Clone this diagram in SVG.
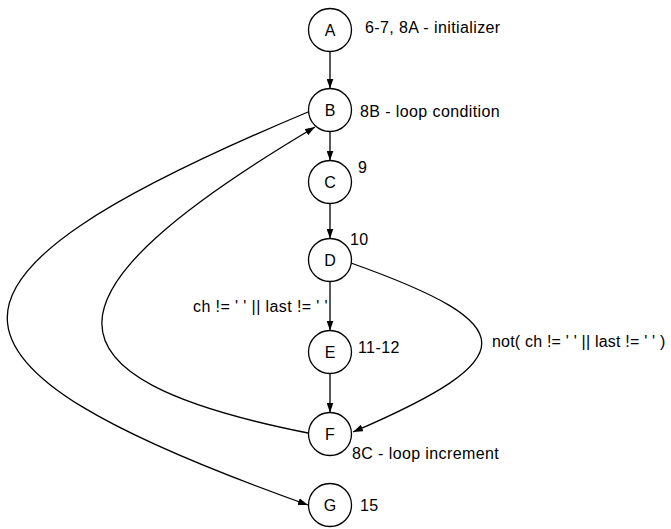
<svg xmlns="http://www.w3.org/2000/svg" width="671" height="529" viewBox="0 0 671 529">
<style>
.n circle{fill:#fff;stroke:#000;stroke-width:1.3}
text{font-family:"Liberation Sans",Arial,sans-serif;font-size:16px;letter-spacing:0.4px;fill:#000}
.n text{text-anchor:middle;letter-spacing:0}
.e{fill:none;stroke:#000;stroke-width:1.3;marker-end:url(#ah)}
</style>
<defs>
<marker id="ah" markerUnits="userSpaceOnUse" markerWidth="10" markerHeight="7" refX="10" refY="3.5" orient="auto">
<path d="M0,0 L10,3.5 L0,7 z" fill="#000"/>
</marker>
</defs>
<rect width="671" height="529" fill="#fff"/>
<g id="edges">
<path class="e" d="M330,51.5 L330,88.5"/>
<path class="e" d="M330,131.5 L330,160.5"/>
<path class="e" d="M330,203.5 L330,238.5"/>
<path class="e" d="M330,281.5 L330,330.5"/>
<path class="e" d="M330,373.5 L330,412.5"/>
<path class="e" d="M351,263 C525,325 525,358 353,432"/>
<path class="e" d="M308,112 C-93,280 -93,362 308,505"/>
<path class="e" d="M308,433 C32,378 32,295 315,127"/>
<text x="193" y="312">ch != ' ' || last != ' '</text>
<text x="492" y="347" style="letter-spacing:0.2px">not( ch != ' ' || last != ' ' )</text>
</g>
<g id="A" class="n"><circle cx="330" cy="30" r="21.5"/><text x="330" y="36">A</text></g>
<text x="365" y="33">6-7, 8A - initializer</text>
<g id="B" class="n"><circle cx="330" cy="110" r="21.5"/><text x="330" y="116">B</text></g>
<text x="360" y="117">8B - loop condition</text>
<g id="C" class="n"><circle cx="330" cy="182" r="21.5"/><text x="330" y="188">C</text></g>
<text x="358" y="173">9</text>
<g id="D" class="n"><circle cx="330" cy="260" r="21.5"/><text x="330" y="266">D</text></g>
<text x="350" y="245">10</text>
<g id="E" class="n"><circle cx="330" cy="352" r="21.5"/><text x="330" y="358">E</text></g>
<text x="358" y="353">11-12</text>
<g id="F" class="n"><circle cx="330" cy="434" r="21.5"/><text x="330" y="440">F</text></g>
<text x="352" y="459">8C - loop increment</text>
<g id="G" class="n"><circle cx="330" cy="505" r="21.5"/><text x="330" y="511">G</text></g>
<text x="360" y="511">15</text>
</svg>
